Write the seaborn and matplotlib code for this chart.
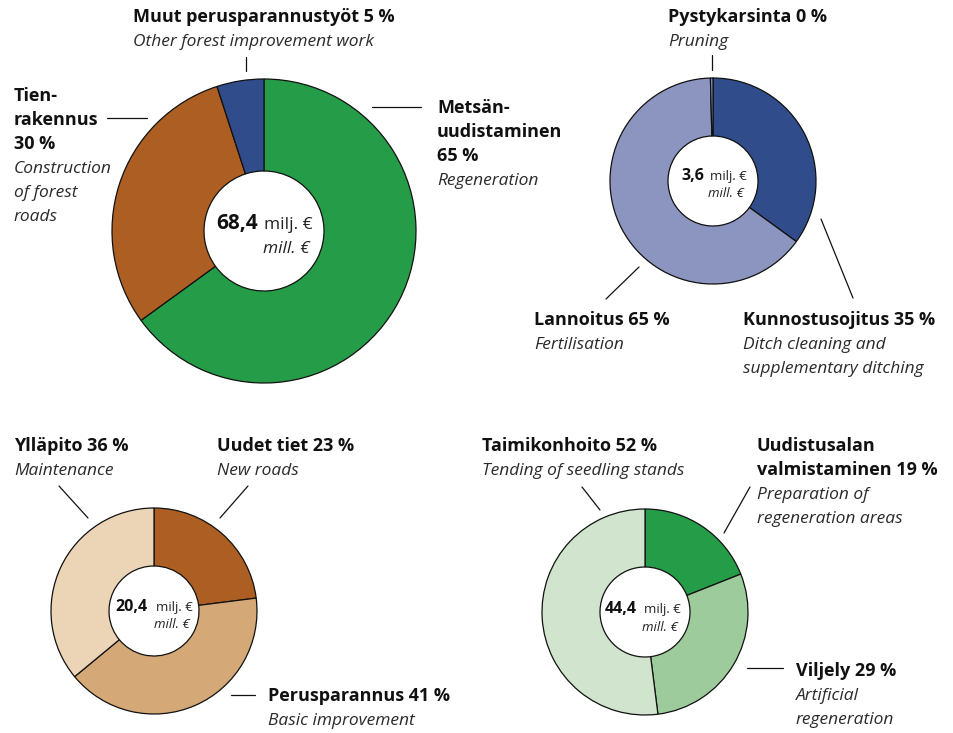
import matplotlib
matplotlib.use("Agg")
import matplotlib.pyplot as plt
import seaborn as sns

# Data: shares (%) clockwise from 12 o'clock
road_values = [65, 30, 5]          # chart 1 (top left)
ditch_values = [35, 64.6, 0.4]     # chart 2 (top right)
roads_values = [23, 41, 36]        # chart 3 (bottom left)
seedling_values = [19, 29, 52]     # chart 4 (bottom right)

totals = ["68,4", "3,6", "20,4", "44,4"]

colors1 = ["#259c48", "#ad5e22", "#314c8a"]
colors2 = ["#314c8a", "#8c95c0", "#8c95c0"]
colors3 = ["#ad5e22", "#d4a877", "#ecd4b6"]
colors4 = ["#259c48", "#9ecb9c", "#d1e4cd"]

sns.set_style("white")
plt.rcParams["font.family"] = ["Open Sans", "DejaVu Sans"]

W, H = 954, 733
fig = plt.figure(figsize=(W / 100, H / 100), dpi=100)
ax = fig.add_axes([0, 0, 1, 1])


def py(y):
    return H - y


def donut(values, colors, cx, cy, r_out, r_in):
    ax.pie(values, colors=colors, startangle=90, counterclock=False,
           center=(cx, py(cy)), radius=r_out, frame=True,
           wedgeprops=dict(width=r_out - r_in, edgecolor="#111111", linewidth=0.9))


def label(x, y, lines, size=13):
    # lines: list of (text, bold?)
    for i, (txt, bold) in enumerate(lines):
        if bold:
            ax.text(x, py(y + 24 * i), txt, fontsize=size, fontweight="bold",
                    color="#111111", va="baseline", ha="left")
        else:
            ax.text(x, py(y + 24 * i), txt, fontsize=size - 0.5, fontstyle="italic",
                    color="#2a2a2a", va="baseline", ha="left")


def leader(x0, y0, x1, y1):
    ax.plot([x0, x1], [py(y0), py(y1)], color="#111111", lw=0.9)


def center_text(total, x_left, x_right, y1, y2, big, small):
    ax.text(x_left, py(y1), total, fontsize=big, fontweight="bold",
            color="#111111", ha="left", va="baseline")
    ax.text(x_right, py(y1), "milj. €", fontsize=small,
            color="#222222", ha="right", va="baseline")
    ax.text(x_right - 3, py(y2), "mill. €", fontsize=small, fontstyle="italic",
            color="#222222", ha="right", va="baseline")


# Chart 1
donut(road_values, colors1, 264, 231, 152, 60)
center_text(totals[0], 216, 313, 229, 253, 15, 12.5)
label(133, 22, [("Muut perusparannustyöt 5 %", True),
                ("Other forest improvement work", False)])
leader(246, 57, 246, 71)
label(14, 101, [("Tien-", True), ("rakennus", True), ("30 %", True),
                ("Construction", False), ("of forest", False), ("roads", False)])
leader(107, 118, 147, 118)
label(437, 113, [("Metsän-", True), ("uudistaminen", True), ("65 %", True),
                 ("Regeneration", False)])
leader(372, 107, 421, 107)

# Chart 2
donut(ditch_values, colors2, 713, 181, 103, 45)
center_text(totals[1], 681, 747, 180, 197, 11.5, 9.5)
label(668, 22, [("Pystykarsinta 0 %", True), ("Pruning", False)])
leader(712, 55, 712, 70)
label(534, 325, [("Lannoitus 65 %", True), ("Fertilisation", False)])
leader(606, 299, 639, 267)
label(743, 325, [("Kunnostusojitus 35 %", True), ("Ditch cleaning and", False),
                 ("supplementary ditching", False)])
leader(821, 219, 853, 298)

# Chart 3
donut(roads_values, colors3, 154, 611, 103, 45)
center_text(totals[2], 115, 193, 611, 628, 11.5, 9.5)
label(14, 451, [("Ylläpito 36 %", True), ("Maintenance", False)])
leader(59, 486, 88, 518)
label(217, 451, [("Uudet tiet 23 %", True), ("New roads", False)])
leader(248, 486, 220, 518)
label(268, 701, [("Perusparannus 41 %", True), ("Basic improvement", False)])
leader(231, 695, 255, 695)

# Chart 4
donut(seedling_values, colors4, 645, 612, 103, 45)
center_text(totals[3], 605, 681, 613, 631, 11.5, 9.5)
label(482, 451, [("Taimikonhoito 52 %", True), ("Tending of seedling stands", False)])
leader(582, 487, 600, 510)
label(757, 451, [("Uudistusalan", True), ("valmistaminen 19 %", True),
                 ("Preparation of", False), ("regeneration areas", False)])
leader(750, 487, 724, 533)
label(796, 676, [("Viljely 29 %", True), ("Artificial", False), ("regeneration", False)])
leader(747, 668, 783, 668)

ax.set_xlim(0, W)
ax.set_ylim(0, H)
ax.set_aspect("equal")
ax.axis("off")

fig.savefig("out.png", dpi=100, facecolor="white")
